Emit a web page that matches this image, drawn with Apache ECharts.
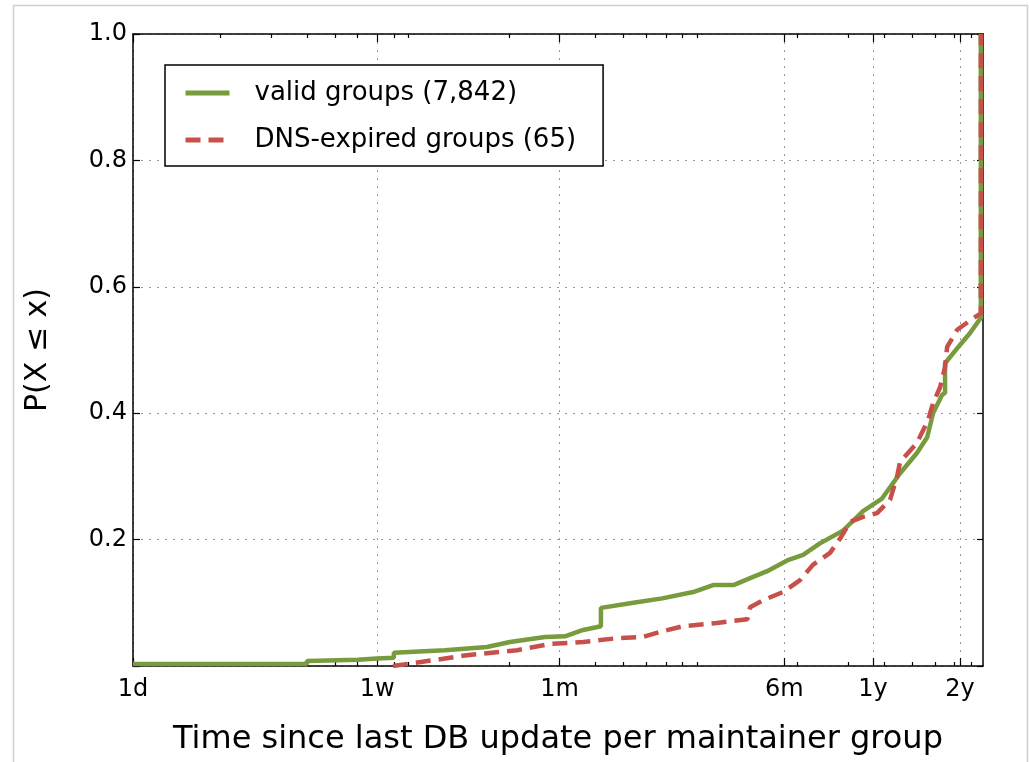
<!DOCTYPE html>
<html>
<head>
<meta charset="utf-8">
<title>Time since last DB update</title>
<script src="https://cdn.jsdelivr.net/npm/echarts@6/dist/echarts.min.js"></script>
<style>
  html, body { margin: 0; padding: 0; background: #fff; }
  #chart { width: 1029px; height: 762px; }
</style>
</head>
<body>
<div id="chart"></div>
<script>
// x in days (log axis), y = P(X <= x)
const validDays = [1, 4, 4, 6, 7, 8, 8, 12, 16.8, 20.2, 26.7, 31.3, 36.2, 41.7, 41.7, 54, 68, 87, 102, 120, 137, 157, 184, 209, 239, 287, 337, 392, 453, 518, 562, 589, 633, 648, 648, 730, 791, 862, 862];
const validP = [0.003, 0.003, 0.008, 0.010, 0.012, 0.013, 0.021, 0.025, 0.030, 0.038, 0.046, 0.047, 0.057, 0.063, 0.092, 0.100, 0.107, 0.117, 0.128, 0.128, 0.139, 0.150, 0.167, 0.176, 0.194, 0.214, 0.245, 0.265, 0.305, 0.337, 0.362, 0.400, 0.429, 0.432, 0.479, 0.508, 0.527, 0.551, 1.0];

const expiredDays = [7.95, 10.9, 14.3, 21.4, 27.8, 36.2, 47.4, 58.3, 66.8, 80.3, 105, 134, 137, 152, 178, 204, 226, 259, 281, 304, 337, 377, 418, 442, 453, 518, 544, 566, 589, 623, 648, 659, 714, 810, 862, 862];
const expiredP = [0.0, 0.009, 0.017, 0.025, 0.035, 0.038, 0.044, 0.046, 0.054, 0.063, 0.068, 0.074, 0.093, 0.104, 0.117, 0.136, 0.160, 0.179, 0.202, 0.228, 0.236, 0.242, 0.263, 0.300, 0.323, 0.353, 0.373, 0.389, 0.416, 0.441, 0.473, 0.505, 0.532, 0.550, 0.558, 1.0];

const seriesNames = ['valid groups (7,842)', 'DNS-expired groups (65)'];

// labelled ticks and the small in-between ticks
const dayTicks = [1, 7, 30, 180, 365, 730];
const dayLabels = ['1d', '1w', '1m', '6m', '1y', '2y'];
const minorDays = [2, 3, 4, 5, 6, 8, 9, 20, 40, 50, 60, 70, 80, 90, 200, 300, 400, 500, 600, 700, 800];

const FONT = 'DejaVu Sans';
const xMin = 1, xMax = 877;

function pairs(xs, ys) {
    return xs.map(function (x, i) { return [x, ys[i]]; });
}

function dayLabel(v) {
    for (let i = 0; i < dayTicks.length; i++) {
        if (Math.abs(dayTicks[i] - v) < 0.5) return dayLabels[i];
    }
    return '';
}

// one log x axis, reused for bottom / top and major / minor ticks
function xAxisDef(position, ticks, major) {
    return {
        type: 'log',
        logBase: 10,
        min: xMin,
        max: xMax,
        position: position,
        name: position === 'bottom' && major ? 'Time since last DB update per maintainer group' : '',
        nameLocation: 'middle',
        nameGap: 58,
        nameTextStyle: { fontFamily: FONT, fontSize: 32, color: '#000' },
        axisLine: { show: major, lineStyle: { color: '#000', width: 1.5 } },
        axisTick: {
            show: true,
            inside: true,
            length: major ? 8 : 4,
            customValues: ticks,
            lineStyle: { color: '#000', width: 1.2 }
        },
        axisLabel: {
            show: position === 'bottom' && major,
            customValues: ticks,
            margin: 12,
            fontFamily: FONT,
            fontSize: 24,
            color: '#000',
            formatter: dayLabel
        },
        splitLine: {
            show: position === 'bottom' && major,
            lineStyle: { color: '#999', width: 1, type: [2, 6] }
        },
        minorTick: { show: false },
        minorSplitLine: { show: false }
    };
}

const chart = echarts.init(document.getElementById('chart'));

const option = {
    backgroundColor: '#fff',
    animation: false,
    graphic: [{
        type: 'rect',
        left: 11,
        top: 3,
        shape: { width: 1014, height: 780 },
        style: { fill: 'none', stroke: '#cfcfcf', lineWidth: 1.5 },
        z: -10
    }],
    grid: { left: 133, right: 46, top: 34, bottom: 96, outerBoundsMode: 'none' },
    legend: {
        orient: 'vertical',
        left: 165,
        top: 65,
        padding: [13, 27, 11, 18],
        itemGap: 17,
        itemWidth: 44,
        itemHeight: 14,
        backgroundColor: '#fff',
        borderColor: '#000',
        borderWidth: 1.5,
        borderRadius: 0,
        // hide the circle marker, keep only the line sample
        itemStyle: { opacity: 0 },
        lineStyle: { width: 5 },
        textStyle: { fontFamily: FONT, fontSize: 26, lineHeight: 30, color: '#000', padding: [0, 0, 0, 20] },
        data: seriesNames
    },
    xAxis: [
        xAxisDef('bottom', dayTicks, true),
        xAxisDef('bottom', minorDays, false),
        xAxisDef('top', dayTicks, true),
        xAxisDef('top', minorDays, false)
    ],
    yAxis: [{
        type: 'value',
        min: 0,
        max: 1,
        interval: 0.2,
        position: 'left',
        name: 'P(X \u2264 x)',
        nameLocation: 'middle',
        nameGap: 80,
        nameTextStyle: { fontFamily: FONT, fontSize: 30, color: '#000' },
        axisLine: { show: true, lineStyle: { color: '#000', width: 1.5 } },
        axisTick: { show: true, inside: true, length: 7, lineStyle: { color: '#000', width: 1.2 } },
        axisLabel: {
            margin: 6,
            fontFamily: FONT,
            fontSize: 24,
            color: '#000',
            formatter: function (v) { return v === 0 ? '' : v.toFixed(1); }
        },
        splitLine: { show: true, lineStyle: { color: '#999', width: 1, type: [2, 6] } }
    }, {
        type: 'value',
        min: 0,
        max: 1,
        interval: 0.2,
        position: 'right',
        axisLine: { show: true, lineStyle: { color: '#000', width: 1.5 } },
        axisTick: { show: true, inside: true, length: 6, lineStyle: { color: '#000', width: 1.2 } },
        axisLabel: { show: false },
        splitLine: { show: false }
    }],
    series: [{
        name: seriesNames[0],
        type: 'line',
        xAxisIndex: 0,
        yAxisIndex: 0,
        symbol: 'none',
        color: '#779b3d',
        lineStyle: { color: '#779b3d', width: 4.5 },
        data: pairs(validDays, validP),
        z: 3
    }, {
        name: seriesNames[1],
        type: 'line',
        xAxisIndex: 0,
        yAxisIndex: 0,
        symbol: 'none',
        color: '#c8504a',
        lineStyle: { color: '#c8504a', width: 4.5, type: [15, 8] },
        data: pairs(expiredDays, expiredP),
        z: 4
    }]
};

chart.setOption(option);
</script>
</body>
</html>
